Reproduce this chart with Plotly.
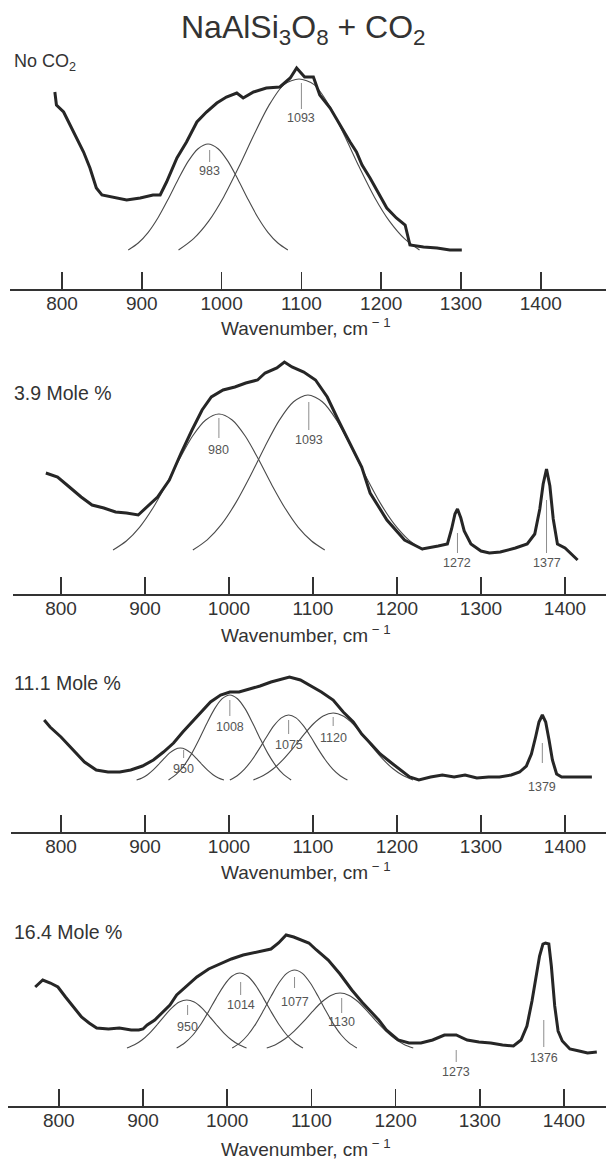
import plotly.graph_objects as go

W, H = 606, 1164
FONT = "Liberation Sans, Arial, Helvetica, sans-serif"

# ---------------- data (intensity in arbitrary units above the axis) ----------------
tick_vals = [800, 900, 1000, 1100, 1200, 1300, 1400]
x_title = "Wavenumber, cm<sup> \u2212 1</sup>"
fig_title = "NaAlSi<sub>3</sub>O<sub>8</sub> + CO<sub>2</sub>"
panel_names = ["No CO<sub>2</sub>", "3.9 Mole %", "11.1 Mole %", "16.4 Mole %"]

# Panel 1 : No CO2
p1_wn = [791, 793, 802, 810, 818, 827, 835, 843, 850, 864, 881, 898, 914, 923, 931, 944, 956, 969, 981, 994,
         1006, 1019, 1027, 1040, 1056, 1073, 1086, 1094, 1104, 1115, 1123, 1136, 1146, 1161, 1169, 1176, 1186,
         1198, 1207, 1219, 1230, 1236, 1253, 1270, 1286, 1301]
p1_int = [197, 184, 177, 164, 151, 137, 121, 101, 94, 92, 89, 91, 94, 94, 107, 131, 147, 167, 177, 186,
          192, 196, 191, 197, 201, 202, 211, 221, 212, 212, 194, 181, 167, 147, 137, 124, 111,
          94, 81, 71, 64, 44, 42, 41, 39, 39]
p1_c983_x = [883, 895.5, 908, 920.5, 933, 945.5, 958, 970.5, 983, 995.5, 1008, 1020.5, 1033, 1045.5, 1058, 1070.5, 1083]
p1_c983_y = [39, 46, 56.7, 71.5, 89.8, 109.5, 127.6, 140.3, 145, 140.3, 127.6, 109.5, 89.8, 71.5, 56.7, 46, 39]
p1_c1093_x = [946, 964.9, 983.8, 1002.6, 1021.5, 1040.4, 1059.3, 1078.1, 1097, 1115.9, 1134.8, 1153.6, 1172.5, 1191.4, 1210.3, 1229.1, 1248]
p1_c1093_y = [39, 50.4, 67.9, 92.1, 121.9, 154, 183.6, 204.4, 210, 204.4, 183.6, 154, 121.9, 92.1, 67.9, 50.4, 39]
p1_lab_text = ["983", "1093"]
p1_lab_wn = [985, 1100]
p1_lab_int = [118, 171]
p1_lab_top = [139, 206]
p1_lab_bot = [127, 180]

# Panel 2 : 3.9 mole %
p2_wn = [782, 796, 810, 824, 837, 851, 865, 878, 892, 901, 915, 929, 943, 956, 968, 979, 993, 1007, 1020, 1034,
         1043, 1057, 1066, 1075, 1089, 1103, 1117, 1130, 1144, 1158, 1168, 1188, 1209, 1230, 1249, 1260, 1265,
         1269, 1272, 1276, 1280, 1288, 1300, 1310, 1323, 1341, 1355, 1364, 1370, 1374, 1378, 1382, 1386, 1391,
         1400, 1410, 1415]
p2_int = [121, 117, 107, 97, 89, 86, 82, 81, 79, 86, 97, 114, 141, 164, 184, 197, 204, 207, 211, 214,
          221, 226, 232, 227, 222, 214, 197, 174, 151, 127, 101, 74, 54, 45, 48, 50, 65,
          80, 85, 76, 63, 50, 43, 41, 42, 46, 50, 60, 85, 110, 125, 108, 75, 50,
          46, 38, 34]
p2_c980_x = [862, 877.8, 893.5, 909.3, 925, 940.8, 956.5, 972.3, 988, 1003.8, 1019.5, 1035.3, 1051, 1066.8, 1082.5, 1098.3, 1114]
p2_c980_y = [44, 53, 66.7, 85.8, 109.1, 134.4, 157.7, 174, 180, 174, 157.7, 134.4, 109.1, 85.8, 66.7, 53, 44]
p2_c1093_x = [957, 974.1, 991.3, 1008.4, 1025.5, 1042.6, 1059.8, 1076.9, 1094, 1111.1, 1128.3, 1145.4, 1162.5, 1179.6, 1196.8, 1213.9, 1231]
p2_c1093_y = [44, 54.2, 69.9, 91.6, 118.2, 147.1, 173.6, 192.2, 199, 192.2, 173.6, 147.1, 118.2, 91.6, 69.9, 54.2, 44]
p2_lab_text = ["980", "1093", "1272", "1377"]
p2_lab_wn = [988, 1095, 1272, 1378]
p2_lab_int = [144, 154, 31, 31]
p2_lab_top = [176, 192, 61, 94]
p2_lab_bot = [156, 164, 41, 41]

# Panel 3 : 11.1 mole %
p3_wn = [780, 787, 800, 814, 828, 842, 856, 870, 883, 897, 910, 922, 934, 945, 956, 966, 978, 990, 1001, 1012,
         1025, 1037, 1050, 1062, 1072, 1085, 1098, 1110, 1124, 1136, 1148, 1158, 1168, 1180, 1192, 1205, 1215,
         1226, 1240, 1254, 1268, 1281, 1295, 1309, 1322, 1336, 1346, 1354, 1360, 1365, 1369, 1373, 1377, 1381,
         1385, 1390, 1396, 1410, 1432]
p3_int = [112, 105, 95, 82, 70, 62, 60, 60, 62, 66, 72, 80, 89, 100, 110, 119, 130, 137, 140, 140,
          143, 146, 150, 153, 155, 152, 146, 140, 132, 120, 110, 98, 89, 78, 70, 62, 55,
          52, 55, 57, 55, 57, 54, 55, 55, 57, 60, 66, 78, 95, 110, 117, 110, 92,
          72, 58, 55, 55, 55]
p3_c950_x = [890, 896.5, 903, 909.5, 916, 922.5, 929, 935.5, 942, 948.5, 955, 961.5, 968, 974.5, 981, 987.5, 994]
p3_c950_y = [52, 54.1, 57.3, 61.8, 67.3, 73.3, 78.8, 82.6, 84, 82.6, 78.8, 73.3, 67.3, 61.8, 57.3, 54.1, 52]
p3_c1008_x = [928, 937.1, 946.3, 955.4, 964.5, 973.6, 982.8, 991.9, 1001, 1010.1, 1019.3, 1028.4, 1037.5, 1046.6, 1055.8, 1064.9, 1074]
p3_c1008_y = [52, 57.6, 66.2, 78.1, 92.7, 108.5, 123.1, 133.3, 137, 133.3, 123.1, 108.5, 92.7, 78.1, 66.2, 57.6, 52]
p3_c1075_x = [1001, 1009.8, 1018.5, 1027.3, 1036, 1044.8, 1053.5, 1062.3, 1071, 1079.8, 1088.5, 1097.3, 1106, 1114.8, 1123.5, 1132.3, 1141]
p3_c1075_y = [52, 56.3, 62.9, 72, 83.1, 95.2, 106.3, 114.1, 117, 114.1, 106.3, 95.2, 83.1, 72, 62.9, 56.3, 52]
p3_c1120_x = [1029, 1040.9, 1052.8, 1064.6, 1076.5, 1088.4, 1100.3, 1112.1, 1124, 1135.9, 1147.8, 1159.6, 1171.5, 1183.4, 1195.3, 1207.1, 1219]
p3_c1120_y = [52, 56.4, 63.2, 72.6, 84.1, 96.6, 108, 116, 119, 116, 108, 96.6, 84.1, 72.6, 63.2, 56.4, 52]
p3_lab_text = ["950", "1008", "1075", "1120", "1379"]
p3_lab_wn = [946, 1001, 1071, 1124, 1373]
p3_lab_int = [63, 105, 87, 94, 45]
p3_lab_top = [82, 132, 112, 115, 89]
p3_lab_bot = [74, 116, 98, 106, 69]

# Panel 4 : 16.4 mole %
p4_wn = [772, 781, 790, 799, 808, 817, 827, 836, 845, 859, 872, 886, 895, 900, 905, 914, 923, 932, 940, 952,
         964, 978, 991, 1005, 1019, 1031, 1043, 1052, 1061, 1070, 1079, 1088, 1097, 1106, 1120, 1134, 1148,
         1160, 1170, 1180, 1189, 1203, 1216, 1230, 1244, 1258, 1272, 1285, 1299, 1313, 1327, 1340, 1349, 1356,
         1362, 1367, 1371, 1375, 1378, 1382, 1385, 1389, 1393, 1398, 1407, 1418, 1428, 1439]
p4_int = [119, 126, 123, 119, 109, 99, 89, 83, 78, 77, 78, 76, 76, 77, 81, 86, 93, 101, 111, 120,
          129, 137, 142, 147, 151, 153, 155, 157, 163, 171, 169, 166, 163, 156, 146, 132, 116,
          104, 95, 86, 76, 66, 63, 63, 66, 71, 71, 66, 64, 63, 61, 60, 66, 80,
          105, 130, 150, 162, 163, 162, 140, 100, 75, 65, 57, 55, 53, 54]
p4_c950_x = [881, 889.9, 898.8, 907.6, 916.5, 925.4, 934.3, 943.1, 952, 960.9, 969.8, 978.6, 987.5, 996.4, 1005.3, 1014.1, 1023]
p4_c950_y = [58, 61.2, 66, 72.7, 81, 89.9, 98.1, 103.9, 106, 103.9, 98.1, 89.9, 81, 72.7, 66, 61.2, 58]
p4_c1014_x = [940, 949.4, 958.8, 968.1, 977.5, 986.9, 996.3, 1005.6, 1015, 1024.4, 1033.8, 1043.1, 1052.5, 1061.9, 1071.3, 1080.6, 1090]
p4_c1014_y = [58, 63, 70.5, 81, 93.9, 107.9, 120.7, 129.7, 133, 129.7, 120.7, 107.9, 93.9, 81, 70.5, 63, 58]
p4_c1077_x = [1006, 1015.3, 1024.5, 1033.8, 1043, 1052.3, 1061.5, 1070.8, 1080, 1089.3, 1098.5, 1107.8, 1117, 1126.3, 1135.5, 1144.8, 1154]
p4_c1077_y = [58, 63.1, 71, 81.9, 95.4, 109.9, 123.2, 132.6, 136, 132.6, 123.2, 109.9, 95.4, 81.9, 71, 63.1, 58]
p4_c1130_x = [1047, 1057.9, 1068.8, 1079.6, 1090.5, 1101.4, 1112.3, 1123.1, 1134, 1144.9, 1155.8, 1166.6, 1177.5, 1188.4, 1199.3, 1210.1, 1221]
p4_c1130_y = [58, 61.6, 67.2, 74.9, 84.3, 94.6, 104, 110.6, 113, 110.6, 104, 94.6, 84.3, 74.9, 67.2, 61.6, 58]
p4_lab_text = ["950", "1014", "1077", "1130", "1273", "1376"]
p4_lab_wn = [953, 1016, 1080, 1136, 1272, 1376]
p4_lab_int = [79, 101, 104, 84, 34, 48]
p4_lab_top = [101, 124, 129, 108, 56, 86]
p4_lab_bot = [91, 111, 118, 93, 44, 59]

# ---------------- layout geometry (pixels) ----------------
geom = [
    dict(axis_y=289, span=232, x_left=10, xr=[734.8, 1481.7], title_y=327, name_y=62),
    dict(axis_y=594, span=242, x_left=13, xr=[742.9, 1448.8], title_y=634, name_y=393),
    dict(axis_y=832, span=165, x_left=11, xr=[740.5, 1448.8], title_y=871, name_y=683),
    dict(axis_y=1106, span=175, x_left=8, xr=[739.7, 1449.9], title_y=1148, name_y=932),
]

panels = [
    dict(wn=p1_wn, inten=p1_int,
         comps=[(p1_c983_x, p1_c983_y), (p1_c1093_x, p1_c1093_y)],
         labs=(p1_lab_text, p1_lab_wn, p1_lab_int, p1_lab_top, p1_lab_bot)),
    dict(wn=p2_wn, inten=p2_int,
         comps=[(p2_c980_x, p2_c980_y), (p2_c1093_x, p2_c1093_y)],
         labs=(p2_lab_text, p2_lab_wn, p2_lab_int, p2_lab_top, p2_lab_bot)),
    dict(wn=p3_wn, inten=p3_int,
         comps=[(p3_c950_x, p3_c950_y), (p3_c1008_x, p3_c1008_y), (p3_c1075_x, p3_c1075_y), (p3_c1120_x, p3_c1120_y)],
         labs=(p3_lab_text, p3_lab_wn, p3_lab_int, p3_lab_top, p3_lab_bot)),
    dict(wn=p4_wn, inten=p4_int,
         comps=[(p4_c950_x, p4_c950_y), (p4_c1014_x, p4_c1014_y), (p4_c1077_x, p4_c1077_y), (p4_c1130_x, p4_c1130_y)],
         labs=(p4_lab_text, p4_lab_wn, p4_lab_int, p4_lab_top, p4_lab_bot)),
]

fig = go.Figure()
annotations = []
layout_axes = {}

for i, (p, g) in enumerate(zip(panels, geom)):
    n = "" if i == 0 else str(i + 1)
    xa, ya = "x" + n, "y" + n
    for cx, cy in p["comps"]:
        fig.add_trace(go.Scatter(x=cx, y=cy, xaxis=xa, yaxis=ya, mode="lines",
                                 line=dict(color="#4a4a4a", width=1.1, shape="spline", smoothing=0.8),
                                 hoverinfo="skip", showlegend=False))
    text, lwn, lint, ltop, lbot = p["labs"]
    px, py = [], []
    for w, t, b in zip(lwn, ltop, lbot):
        px += [w, w, None]
        py += [t, b, None]
    fig.add_trace(go.Scatter(x=px, y=py, xaxis=xa, yaxis=ya, mode="lines",
                             line=dict(color="#808080", width=0.9), hoverinfo="skip", showlegend=False))
    fig.add_trace(go.Scatter(x=p["wn"], y=p["inten"], xaxis=xa, yaxis=ya, mode="lines",
                             line=dict(color="#262626", width=3),
                             hoverinfo="skip", showlegend=False))
    for t, w, yv in zip(text, lwn, lint):
        annotations.append(dict(x=w, y=yv, xref=xa, yref=ya, text=t, showarrow=False,
                                font=dict(family=FONT, size=12.5, color="#555555"),
                                xanchor="center", yanchor="middle"))
    y0 = (H - g["axis_y"]) / H
    y1 = (H - g["axis_y"] + g["span"]) / H
    layout_axes["xaxis" + n] = dict(
        domain=[g["x_left"] / W, 1], range=g["xr"], anchor=ya,
        tickmode="array", tickvals=tick_vals, ticktext=[str(v) for v in tick_vals],
        ticks="inside", ticklen=17, tickwidth=1.6, tickcolor="#333333",
        showline=True, linecolor="#333333", linewidth=1.8,
        showgrid=False, zeroline=False, ticklabelstandoff=-4, fixedrange=True,
        tickfont=dict(family=FONT, size=19, color="#333333"))
    layout_axes["yaxis" + n] = dict(domain=[y0, y1], range=[0, g["span"]], anchor=xa, visible=False,
                                    showgrid=False, zeroline=False, fixedrange=True)
    annotations.append(dict(x=306 / W, y=1 - g["title_y"] / H, xref="paper", yref="paper",
                            text=x_title, showarrow=False, xanchor="center", yanchor="middle",
                            font=dict(family=FONT, size=19, color="#333333")))
    annotations.append(dict(x=12 / W, y=1 - g["name_y"] / H, xref="paper", yref="paper",
                            text=panel_names[i], showarrow=False, xanchor="left", yanchor="middle",
                            font=dict(family=FONT, size=18 if i == 0 else 19.5, color="#333333")))

annotations.append(dict(x=0.5, y=1 - 29 / H, xref="paper", yref="paper", text=fig_title,
                        showarrow=False, xanchor="center", yanchor="middle",
                        font=dict(family=FONT, size=32, color="#333333")))

fig.update_layout(width=W, height=H, margin=dict(l=0, r=0, t=0, b=0, autoexpand=False),
                  paper_bgcolor="white", plot_bgcolor="rgba(0,0,0,0)",
                  showlegend=False, annotations=annotations, **layout_axes)

fig.write_html("out.html", config={"displayModeBar": False, "staticPlot": True},
               post_script="document.body.style.margin='0';document.body.style.overflow='hidden';")
